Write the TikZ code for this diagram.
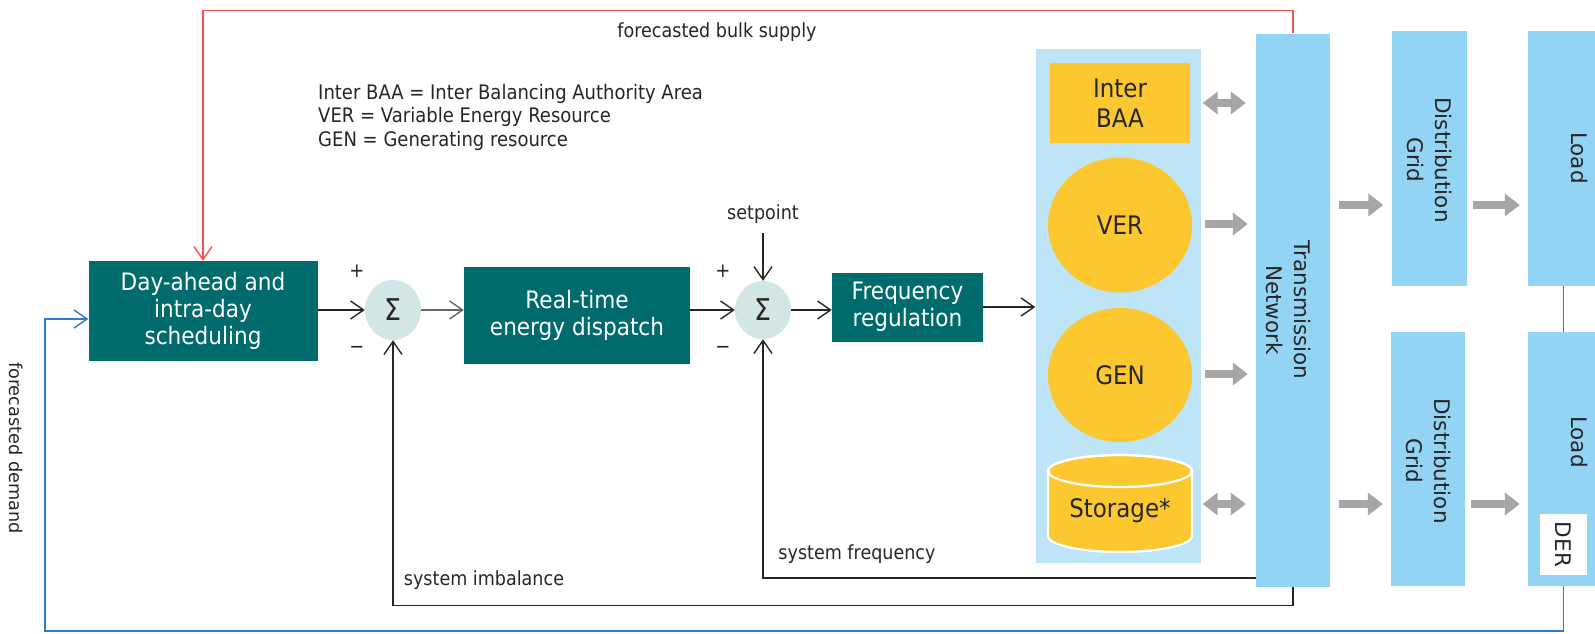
\documentclass[tikz,border=0pt]{standalone}
\usepackage{fontspec}
\setmainfont{DejaVu Sans}[FakeStretch=0.9]
\newfontfamily\rotfont{DejaVu Sans}
\usetikzlibrary{arrows.meta,shapes.geometric,calc}
\definecolor{tealc}{HTML}{006B6D}
\definecolor{sigc}{HTML}{D3E6E6}
\definecolor{panelc}{HTML}{BDE4F7}
\definecolor{tbluec}{HTML}{93D3F3}
\definecolor{yelc}{HTML}{FDC82F}
\definecolor{garc}{HTML}{A6A6A6}
\definecolor{redc}{HTML}{F75050}
\definecolor{bluec}{HTML}{2F7BCB}
\definecolor{linec}{HTML}{262626}
\begin{document}
\begin{tikzpicture}[x=1pt,y=-1pt,
  box/.style={fill=tealc, text=white, align=center, inner sep=0pt, font=\fontsize{24}{27}\selectfont},
  sig/.style={ellipse, fill=sigc, inner sep=0pt, text=linec, font=\fontsize{30}{30}\selectfont},
  lbl/.style={font=\fontsize{19.5}{23.4}\selectfont, inner sep=0pt, text=linec},
  pm/.style={font=\fontsize{20}{20}\selectfont, inner sep=0pt, text=linec},
  ylw/.style={fill=yelc, inner sep=0pt, align=center, font=\fontsize{25.5}{30}\selectfont, text=linec},
  tb/.style={fill=tbluec, inner sep=0pt},
  rot/.style={rotate=-90, align=center, inner sep=0pt, font=\rotfont\fontsize{21.5}{28}\selectfont, text=linec},
  tip/.style={-{Straight Barb[length=13pt,width=18pt,line width=1.4pt]}},
  conn/.style={line width=1.4pt, draw=linec, tip},
  redl/.style={line width=1.5pt, draw=redc, tip},
  bluel/.style={line width=1.5pt, draw=bluec},
  garrow/.style={draw=garc, line width=8pt, -{Triangle[length=15pt,width=22pt]}},
  gdarrow/.style={draw=garc, line width=8pt, {Triangle[length=15pt,width=22pt]}-{Triangle[length=15pt,width=22pt]}}
]
\useasboundingbox (0,0) rectangle (1595,633);

% control blocks
\node[box, minimum width=229pt, minimum height=100pt] (day) at (203,311) {Day-ahead and\\intra-day\\scheduling};
\node[sig, minimum width=56pt, minimum height=60pt] (s1) at (393,310) {Σ};
\node[box, minimum width=226pt, minimum height=97pt] (rt) at (577,315) {Real-time\\energy dispatch};
\node[sig, minimum width=56pt, minimum height=58pt] (s2) at (763,310) {Σ};
\node[box, minimum width=151pt, minimum height=69pt] (fr) at (907.5,307) {Frequency\\regulation};

\node[pm] (p1) at (357,271) {+};
\node[pm] (m1) at (357,350) {\textminus};
\node[pm] (p2) at (723,271) {+};
\node[pm] (m2) at (723,350) {\textminus};
\node[lbl, anchor=base] (setp) at (763,219) {setpoint};
\coordinate (setin) at (763,233);

% resources panel
\node[fill=panelc, minimum width=165pt, minimum height=514pt, inner sep=0pt] (panel) at (1118,306) {};
\node[ylw, minimum width=140pt, minimum height=80pt] (iba) at (1120,103) {Inter\\BAA};
\node[ylw, ellipse, minimum width=144pt, minimum height=135pt] (ver) at (1120,225) {VER};
\node[ylw, ellipse, minimum width=144pt, minimum height=134pt] (gen) at (1120,375) {GEN};
\draw[fill=yelc, draw=white, line width=2.2pt] (1048,471) -- (1048,536)
  arc[start angle=180, end angle=360, x radius=72pt, y radius=16pt] -- (1192,471)
  arc[start angle=0, end angle=180, x radius=72pt, y radius=16pt] -- cycle;
\draw[draw=white, line width=2.2pt] (1120,471) ellipse [x radius=72pt, y radius=16pt];
\node[ylw, fill=none] (stt) at (1120,511) {Storage*};

% network
\node[tb, minimum width=74pt, minimum height=553pt] (tn) at (1293,310) {};
\node[rot] (tnt) at (1288,310) {Transmission\\Network};
\node[tb, minimum width=75pt, minimum height=255pt] (dg1) at (1429,158) {};
\node[rot] (dg1t) at (1429,160) {Distribution\\Grid};
\node[tb, minimum width=74pt, minimum height=254pt] (dg2) at (1428,459) {};
\node[rot] (dg2t) at (1428,461) {Distribution\\Grid};
\node[tb, minimum width=102pt, minimum height=255pt] (ld1) at (1579,158) {};
\node[rot] (ld1t) at (1579,158) {Load};
\node[tb, minimum width=102pt, minimum height=254pt] (ld2) at (1579,459) {};
\node[rot] (ld2t) at (1579,442) {Load};
\node[fill=white, minimum width=47pt, minimum height=61pt, inner sep=0pt] (der) at (1563.5,544.5) {};
\node[rot] (dert) at (1563.5,544.5) {DER};

% legend and labels
\node[lbl, anchor=north west, align=left, font=\fontsize{20}{23.4}\selectfont] (leg) at (318,84) {Inter BAA = Inter Balancing Authority Area\\VER = Variable Energy Resource\\GEN = Generating resource};
\node[lbl] (fbs) at (717,32) {forecasted bulk supply};
\node[lbl] (sif) at (857,554) {system frequency};
\node[lbl] (sim) at (484,580) {system imbalance};
\node[rot, font=\rotfont\fontsize{17.7}{20}\selectfont] (fdm) at (16,448) {forecasted demand};

% control connectors
\draw[conn] (day.east |- s1.west) -- (s1.west);
\draw[conn, line width=2pt, draw=black!60] (s1.east) -- (rt.west |- s1.east);
\draw[conn] (rt.east |- s2.west) -- (s2.west);
\draw[conn] (s2.east) -- (fr.west |- s2.east);
\draw[conn] (fr.east) -- (panel.west |- fr.east);
\draw[conn] (setin) -- (s2.north);

% feedback loops
\draw[conn] (tn.west |- 0,578) -| (s2.south);
\draw[conn] (tn.south) -- ++(0,19) -| (s1.south);
\draw[redl] (tn.north) -- ++(0,-23) -| (day.north);
\draw[bluel] (ld1.south -| der) -- (ld2.north -| der);
\draw[bluel, tip] (ld2.south -| der) |- (45,631) |- ($(day.west)+(0,8)$);

% power flow arrows
\draw[gdarrow] ([xshift=2pt]panel.east |- iba) -- ([xshift=-10pt]tn.west |- iba);
\draw[garrow] ([xshift=4pt]panel.east |- 0,224) -- ([xshift=-8pt]tn.west |- 0,224);
\draw[garrow] ([xshift=4pt]panel.east |- 0,374) -- ([xshift=-8pt]tn.west |- 0,374);
\draw[gdarrow] ([xshift=2pt]panel.east |- 0,504) -- ([xshift=-10pt]tn.west |- 0,504);
\draw[garrow] ([xshift=9pt]tn.east |- 0,205) -- ([xshift=-8pt]dg1.west |- 0,205);
\draw[garrow] ([xshift=6pt]dg1.east |- 0,205) -- ([xshift=-8pt]ld1.west |- 0,205);
\draw[garrow] ([xshift=9pt]tn.east |- 0,504) -- ([xshift=-8pt]dg2.west |- 0,504);
\draw[garrow] ([xshift=6pt]dg2.east |- 0,504) -- ([xshift=-8pt]ld2.west |- 0,504);
\end{tikzpicture}
\end{document}
